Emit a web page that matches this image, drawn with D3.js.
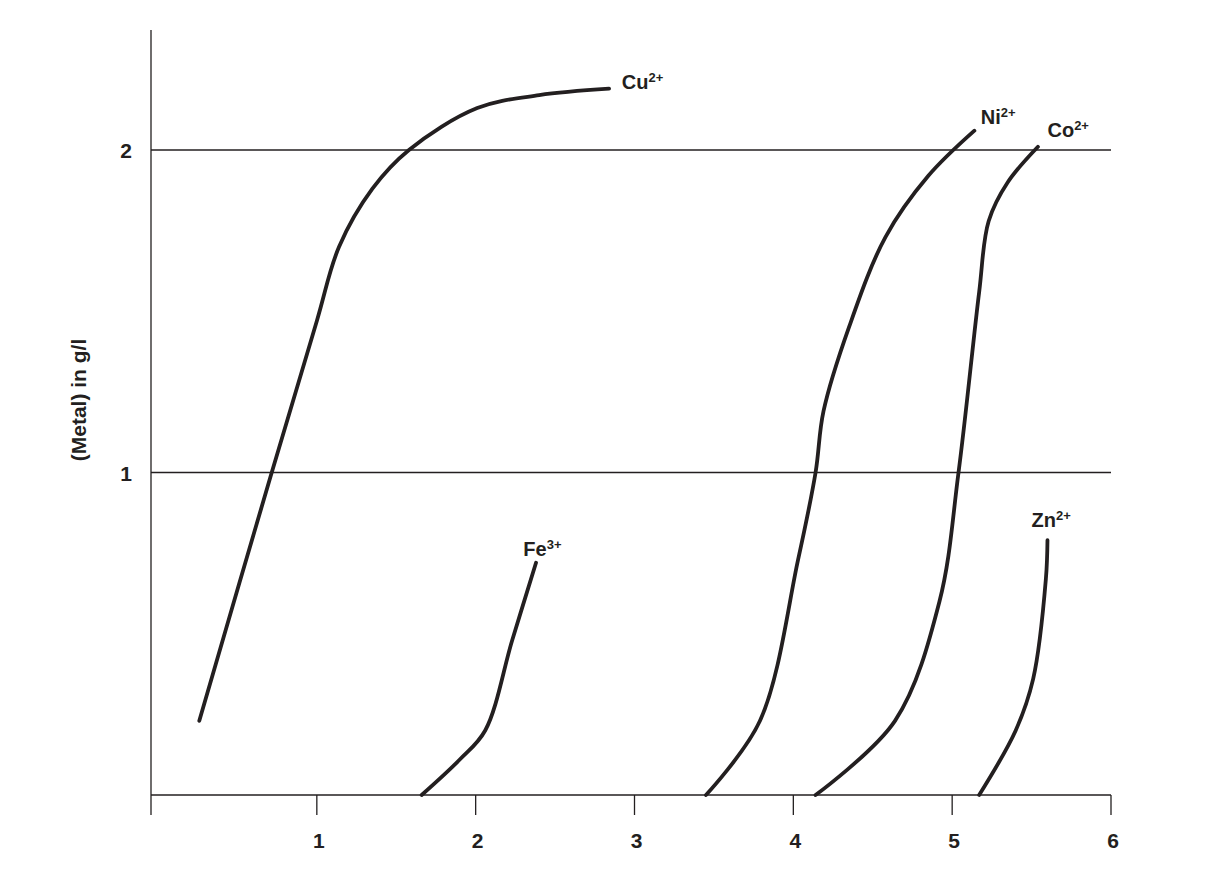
<!DOCTYPE html>
<html><head><meta charset="utf-8">
<script src="https://cdn.jsdelivr.net/npm/d3@7"></script>
<style>body{margin:0;background:#fff}text{font-family:"Liberation Sans",Arial,sans-serif;font-weight:bold;fill:#231f20}</style>
</head><body><div class="chart"></div>
<script>
// metal concentration curves (x: pH-ish axis, y: g/l)
const xTicks = [1, 2, 3, 4, 5, 6];
const yTicks = [1, 2];
const cuX = [0.26, 0.71, 1.0, 1.14, 1.35, 1.58, 2.01, 2.4, 2.84];
const cuY = [0.23, 0.99, 1.47, 1.70, 1.88, 2.0, 2.13, 2.17, 2.19];
const feX = [1.66, 1.9, 2.06, 2.23, 2.38];
const feY = [0, 0.11, 0.2, 0.48, 0.72];
const niX = [3.45, 3.79, 4.03, 4.14, 4.19, 4.35, 4.58, 4.85, 5.14];
const niY = [0, 0.23, 0.73, 1.0, 1.19, 1.45, 1.73, 1.92, 2.06];
const coX = [4.14, 4.64, 4.92, 5.04, 5.17, 5.23, 5.35, 5.54];
const coY = [0, 0.23, 0.6, 1.0, 1.56, 1.78, 1.9, 2.01];
const znX = [5.17, 5.4, 5.51, 5.59, 5.6];
const znY = [0, 0.2, 0.36, 0.67, 0.79];
const series = [
  {name: 'Cu', sup: '2+', xs: cuX, ys: cuY, lx: 2.92, ly: 2.19},
  {name: 'Fe', sup: '3+', xs: feX, ys: feY, lx: 2.3, ly: 0.74},
  {name: 'Ni', sup: '2+', xs: niX, ys: niY, lx: 5.18, ly: 2.08},
  {name: 'Co', sup: '2+', xs: coX, ys: coY, lx: 5.6, ly: 2.04},
  {name: 'Zn', sup: '2+', xs: znX, ys: znY, lx: 5.5, ly: 0.83}
];

const W = 1214, H = 888;
const svg = d3.select('.chart').append('svg').attr('width', W).attr('height', H);
const x = d3.scaleLinear().domain([0, 6]).range([158, 1111]);
const y = d3.scaleLinear().domain([0, 2]).range([795, 150]);

// axes
svg.append('line').attr('x1', 151).attr('x2', 1111).attr('y1', y(0)).attr('y2', y(0)).attr('stroke', '#231f20').attr('stroke-width', 1.3);
svg.append('line').attr('x1', 151).attr('x2', 151).attr('y1', 30).attr('y2', y(0)).attr('stroke', '#231f20').attr('stroke-width', 1.3);
svg.selectAll('.xt').data(xTicks).enter().append('line')
  .attr('x1', d => x(d)).attr('x2', d => x(d)).attr('y1', y(0)).attr('y2', y(0) + 20)
  .attr('stroke', '#231f20').attr('stroke-width', 1.3);
svg.append('line').attr('x1', 151).attr('x2', 151).attr('y1', y(0)).attr('y2', y(0) + 20).attr('stroke', '#231f20').attr('stroke-width', 1.3);
svg.selectAll('.xl').data(xTicks).enter().append('text')
  .attr('x', d => x(d) + 2).attr('y', 848).attr('text-anchor', 'middle').attr('font-size', 21).text(d => d);
svg.selectAll('.grid').data(yTicks).enter().append('line')
  .attr('x1', 151).attr('x2', 1111).attr('y1', d => y(d)).attr('y2', d => y(d))
  .attr('stroke', '#231f20').attr('stroke-width', 1.3);
svg.selectAll('.yl').data(yTicks).enter().append('text')
  .attr('x', 126).attr('y', d => y(d) + 8).attr('text-anchor', 'middle').attr('font-size', 21).text(d => d);
svg.append('text').attr('transform', 'translate(86,400) rotate(-90)')
  .attr('text-anchor', 'middle').attr('font-size', 21).text('(Metal) in g/l');

const line = d3.line().x(d => x(d[0])).y(d => y(d[1])).curve(d3.curveCatmullRom.alpha(0.5));
series.forEach(s => {
  svg.append('path').datum(d3.zip(s.xs, s.ys)).attr('d', line)
    .attr('fill', 'none').attr('stroke', '#231f20').attr('stroke-width', 3.8).attr('stroke-linecap', 'round');
  const t = svg.append('text').attr('x', x(s.lx)).attr('y', y(s.ly)).attr('font-size', 20);
  t.append('tspan').text(s.name);
  t.append('tspan').attr('dy', -7).attr('font-size', 13).text(s.sup);
});
</script></body></html>
